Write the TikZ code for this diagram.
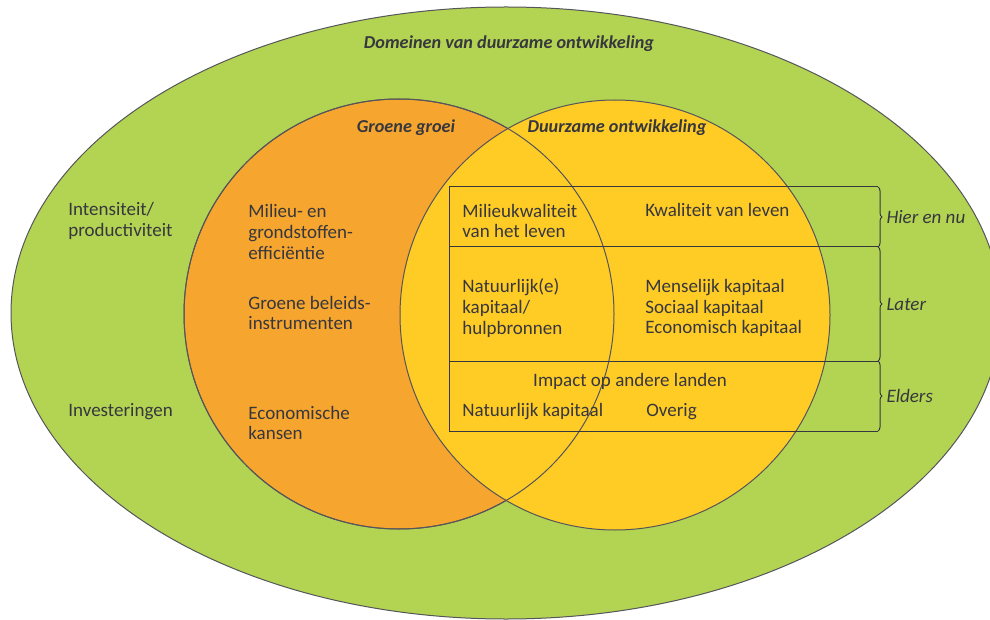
\documentclass[tikz,border=0pt]{standalone}
\usepackage{fontspec}
\setmainfont{Carlito}
\usepackage{tikz}
\usetikzlibrary{shapes.geometric, positioning, decorations.pathreplacing}
\definecolor{domgreen}{RGB}{179,211,83}
\definecolor{ggorange}{RGB}{246,165,46}
\definecolor{doyellow}{RGB}{255,203,37}
\definecolor{inkgrey}{RGB}{55,55,62}

\begin{document}
\begin{tikzpicture}[
    x=0.5pt, y=-0.5pt,
    rim/.style={draw=inkgrey!85, line width=0.5pt},
    venn/.style={circle, inner sep=0pt, minimum size=215pt},
    head/.style={font=\fontsize{9.1}{11}\selectfont\bfseries\itshape, text=inkgrey, inner sep=0pt},
    txt/.style={font=\fontsize{9.5}{10.35}\selectfont, text=inkgrey, align=left, anchor=west, inner sep=0pt},
    side/.style={font=\fontsize{9.5}{10.35}\selectfont\itshape, text=inkgrey, anchor=west, inner sep=0pt},
    grid/.style={draw=inkgrey, line width=0.5pt},
    curly/.style={grid, decorate, decoration={brace, amplitude=2pt}}
]
\clip (0,0) rectangle (990,620);

% domains and the two circles
\node[ellipse, rim, fill=domgreen, inner sep=0pt, minimum width=495pt, minimum height=306pt] (dom) at (506,313) {};
\node[venn, rim, fill=ggorange] (gg) at (399,314) {};
\node[venn, rim, fill=doyellow] (do) at (615,315) {};
\draw[rim] (gg.center) circle[radius=107.5pt];

\node[head] (domtitle) at (509,44) {Domeinen van duurzame ontwikkeling};
\node[head] (ggtitle) at (406,128) {Groene groei};
\node[head] (dotitle) at (617,128) {Duurzame ontwikkeling};

% table
\coordinate (r0) at (449,187);
\coordinate (r1) at (449,247);
\coordinate (r2) at (449,361);
\coordinate (r3) at (449,431);
\coordinate (e0) at (878,187);
\coordinate (e1) at (878,247);
\coordinate (e2) at (878,361);
\coordinate (e3) at (878,431);
\draw[grid] (r0) -- (e0);
\draw[grid] (r1) -- (e1);
\draw[grid] (r2) -- (e2);
\draw[grid] (r3) -- (e3);
\draw[grid] (r0) -- (r3);

\draw[curly] (e0) -- node[side, right=4pt] (nu) {Hier en nu} (e1);
\draw[curly] (e1) -- node[side, right=4pt] (later) {Later} (e2);
\draw[curly] (e2) -- node[side, right=4pt] (elders) {Elders} (e3);

% left column
\node[txt] (intens) at (68,221) {Intensiteit/\\productiviteit};
\node[txt] (invest) at (68,412) {Investeringen};

% green growth
\node[txt] (effic) at (248,232) {Milieu- en\\grondstoffen-\\efficiëntie};
\node[txt] (instr) at (248,313) {Groene beleids-\\instrumenten};
\node[txt] (kansen) at (248,423) {Economische\\kansen};

% sustainable development
\node[txt] (mkwal) at (462,221) {Milieukwaliteit\\van het leven};
\node[txt] (kwal) at (645,210) {Kwaliteit van leven};
\node[txt] (natk) at (462,308) {Natuurlijk(e)\\kapitaal/\\hulpbronnen};
\node[txt] (kap) at (645,308) {Menselijk kapitaal\\Sociaal kapitaal\\Economisch kapitaal};
\node[txt, anchor=center] (impact) at (630,381) {Impact op andere landen};
\node[txt] (natk2) at (462,412) {Natuurlijk kapitaal};
\node[txt] (overig) at (646,412) {Overig};
\end{tikzpicture}
\end{document}
